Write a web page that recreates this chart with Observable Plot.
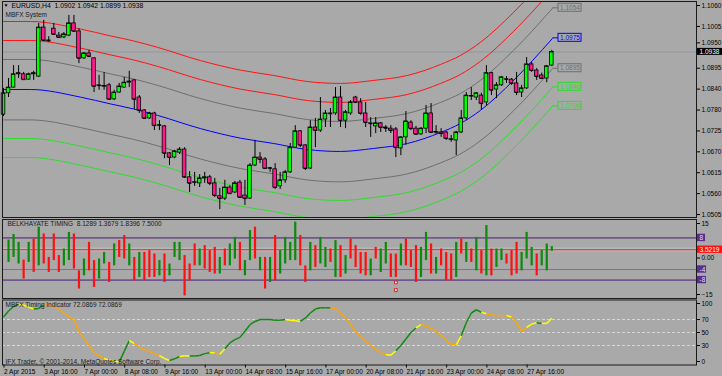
<!DOCTYPE html>
<html><head><meta charset="utf-8">
<script src="https://cdn.jsdelivr.net/npm/d3@7"></script>
<script src="https://cdn.jsdelivr.net/npm/@observablehq/plot@0.6"></script>
<style>
html,body{margin:0;padding:0;background:#a9a9a9;}
#chart{position:relative;width:722px;height:376px;background:#a9a9a9;overflow:hidden;}
#chart svg{position:absolute;left:0;}
</style></head><body><div id="chart"></div>
<script>
// ---------- DATA ----------
const symbolHeader = "EURUSD,H4\u00a0\u00a01.0902 1.0942 1.0899 1.0938";
const timeTickLabels = ["2 Apr 2015","3 Apr 16:00","7 Apr 00:00","8 Apr 08:00","9 Apr 16:00","13 Apr 00:00","14 Apr 08:00","15 Apr 16:00","17 Apr 00:00","20 Apr 08:00","21 Apr 16:00","23 Apr 00:00","24 Apr 08:00","27 Apr 16:00"];
const timeTickBars = [0,8,16,24,32,40,48,56,64,72,80,88,96,104];
const priceTickLabels = ["1.1060","1.1005","1.0950","1.0895","1.0840","1.0780","1.0725","1.0670","1.0615","1.0560","1.0505"];
const priceTickValues = [1.1060,1.1005,1.0950,1.0895,1.0840,1.0785,1.0730,1.0675,1.0620,1.0565,1.0510];

const opens = [1.0773,1.0829,1.0844,1.0879,1.0879,1.0865,1.0879,1.0873,1.1002,1.0968,
1.0999,1.0981,1.0976,1.0981,1.1013,1.0992,1.0921,1.0934,1.0921,1.0850,
1.0847,1.0850,1.0813,1.0831,1.0844,1.0857,1.0863,1.0818,1.0784,1.0763,
1.0776,1.0744,1.0742,1.0671,1.0660,1.0673,1.0681,1.0608,1.0594,1.0592,
1.0605,1.0608,1.0592,1.0558,1.0552,1.0581,1.0568,1.0594,1.0560,1.0552,
1.0639,1.0660,1.0655,1.0631,1.0629,1.0584,1.0600,1.0621,1.0686,1.0729,
1.0692,1.0631,1.0739,1.0731,1.0760,1.0776,1.0776,1.0818,1.0757,1.0776,
1.0818,1.0805,1.0776,1.0750,1.0742,1.0750,1.0739,1.0736,1.0734,1.0684,
1.0713,1.0752,1.0736,1.0721,1.0736,1.0776,1.0726,1.0726,1.0726,1.0707,
1.0705,1.0726,1.0763,1.0821,1.0818,1.0823,1.0805,1.0882,1.0839,1.0850,
1.0865,1.0865,1.0855,1.0831,1.0842,1.0905,1.0889,1.0876,1.0868,1.0902];
const highs = [1.0842,1.0868,1.0902,1.0902,1.0884,1.0882,1.0887,1.1013,1.1021,1.0978,
1.1013,1.0989,1.0989,1.1034,1.1034,1.0999,1.0936,1.0942,1.0923,1.0876,
1.0884,1.0855,1.0837,1.0855,1.0871,1.0887,1.0865,1.0823,1.0786,1.0779,
1.0779,1.0757,1.0744,1.0673,1.0679,1.0686,1.0686,1.0623,1.0621,1.0615,
1.0621,1.0613,1.0605,1.0579,1.0600,1.0586,1.0597,1.0600,1.0600,1.0644,
1.0705,1.0673,1.0660,1.0634,1.0644,1.0621,1.0626,1.0697,1.0744,1.0731,
1.0694,1.0757,1.0763,1.0818,1.0784,1.0789,1.0844,1.0847,1.0784,1.0810,
1.0821,1.0815,1.0805,1.0765,1.0765,1.0752,1.0744,1.0744,1.0739,1.0715,
1.0781,1.0757,1.0742,1.0739,1.0797,1.0802,1.0744,1.0736,1.0729,1.0718,
1.0729,1.0784,1.0831,1.0844,1.0831,1.0829,1.0902,1.0884,1.0857,1.0873,
1.0873,1.0868,1.0884,1.0850,1.0923,1.0910,1.0894,1.0882,1.0902,1.0942];
const lows = [1.0768,1.0818,1.0842,1.0868,1.0863,1.0863,1.0863,1.0871,1.0965,1.0963,
1.0981,1.0973,1.0973,1.0978,1.0989,1.0907,1.0918,1.0923,1.0831,1.0837,
1.0837,1.0810,1.0810,1.0829,1.0842,1.0844,1.0786,1.0776,1.0760,1.0760,
1.0731,1.0731,1.0657,1.0639,1.0657,1.0668,1.0605,1.0568,1.0584,1.0581,
1.0592,1.0586,1.0555,1.0523,1.0547,1.0563,1.0565,1.0552,1.0534,1.0550,
1.0636,1.0644,1.0629,1.0621,1.0576,1.0576,1.0592,1.0618,1.0684,1.0686,
1.0626,1.0629,1.0686,1.0726,1.0739,1.0739,1.0771,1.0739,1.0736,1.0771,
1.0802,1.0771,1.0739,1.0713,1.0723,1.0726,1.0726,1.0723,1.0660,1.0665,
1.0692,1.0731,1.0718,1.0718,1.0723,1.0723,1.0721,1.0713,1.0705,1.0700,
1.0665,1.0723,1.0757,1.0810,1.0810,1.0784,1.0797,1.0823,1.0815,1.0847,
1.0855,1.0850,1.0823,1.0818,1.0839,1.0884,1.0863,1.0865,1.0857,1.0899];
const closes = [1.0829,1.0844,1.0879,1.0882,1.0865,1.0879,1.0882,1.1002,1.0968,1.0967,
1.0984,1.0976,1.0984,1.1013,1.0992,1.0921,1.0934,1.0926,1.0847,1.0849,
1.0848,1.0813,1.0831,1.0847,1.0857,1.0860,1.0813,1.0784,1.0763,1.0776,
1.0744,1.0745,1.0671,1.0660,1.0676,1.0681,1.0608,1.0592,1.0595,1.0605,
1.0608,1.0592,1.0560,1.0552,1.0581,1.0565,1.0592,1.0555,1.0552,1.0639,
1.0660,1.0655,1.0631,1.0632,1.0581,1.0600,1.0621,1.0686,1.0729,1.0692,
1.0631,1.0739,1.0731,1.0760,1.0776,1.0775,1.0818,1.0757,1.0779,1.0805,
1.0805,1.0776,1.0752,1.0749,1.0750,1.0739,1.0737,1.0731,1.0686,1.0713,
1.0755,1.0736,1.0721,1.0736,1.0776,1.0726,1.0727,1.0723,1.0710,1.0708,
1.0726,1.0763,1.0823,1.0822,1.0829,1.0802,1.0882,1.0837,1.0850,1.0871,
1.0866,1.0855,1.0831,1.0842,1.0905,1.0889,1.0873,1.0868,1.0900,1.0938];

// MBFX System channel: centre line samples (bar, price) and band offsets
const centerBars   = [0, 5.4, 15.3, 21.3, 25.8, 30.6, 39.2, 47.1, 53.7, 60.4, 67, 73.6, 80.3, 86.9, 90.9, 94.8, 101.4, 109.1];
const centerPrices = [1.0839,1.0839,1.0819,1.0801,1.0788,1.0771,1.0736,1.0711,1.0697,1.0681,1.0676,1.0684,1.0697,1.0726,1.0750,1.0784,1.0863,1.0973];
const bandOffsets = [0.0179, 0.0129, 0.0079, 0, -0.0080, -0.0129, -0.0179];
const bandColors  = ["#ff1414","#ff1414","#6f6f6f","#0000ff","#6f6f6f","#2fdc2f","#2fdc2f"];
const bandLabels  = ["1.1054","1.0975","1.0895","1.0846","1.0796"];
const bandLabelColors = ["#6f6f6f","#0000ff","#6f6f6f","#2fdc2f","#2fdc2f"];

// BELKHAYATE TIMING (bars 1..109)
const btHeader = "BELKHAYATE TIMING\u00a0\u00a08.1289 1.3679 1.8396 7.5000";
const btHigh = [7.2,9.3,6.3,-0.4,6.3,7.6,12.1,9.5,0.6,9.5,1.3,3.8,10.1,9.5,-4.5,0.0,6.3,-0.6,0.0,2.5,
-1.3,5.7,7.0,8.9,5.7,0.6,2.5,2.5,3.2,1.9,-0.6,1.9,-1.9,6.3,6.3,1.3,-1.9,5.7,3.8,5.1,
3.2,4.4,0.6,3.8,5.7,8.2,6.3,-0.6,10.8,12.1,0.6,0.6,0.6,8.9,3.2,8.2,6.3,14.0,8.9,-2.6,
6.3,5.1,8.2,4.4,3.8,7.0,5.1,1.3,7.6,5.1,2.5,2.5,0.0,4.4,3.8,6.3,1.9,1.9,5.7,7.6,
3.2,5.1,4.4,10.1,5.7,0.6,3.8,2.5,1.9,6.3,7.6,6.3,3.8,8.2,3.2,12.7,3.8,3.8,3.8,1.9,
3.2,6.3,2.5,10.1,4.4,1.9,3.2,5.7,4.7];
const btLow = [-1.3,0.6,-1.9,-7.6,-1.3,-5.1,-2.6,-1.9,-5.1,-0.6,-5.1,-2.6,-0.6,-3.8,-11.4,-6.4,-4.5,-10.8,-7.6,-1.9,
-8.9,-2.6,0.6,0.0,-2.6,-8.3,-7.0,-8.3,-7.0,-7.0,-6.4,-8.9,-6.4,0.6,-0.6,-14.0,-8.3,-2.6,-2.6,-3.8,
-5.1,-5.7,-5.7,-2.6,-2.6,0.0,-4.5,-6.4,-0.6,0.0,-4.5,-11.4,-8.9,-8.3,-5.7,-1.9,-0.6,-0.6,-2.6,-8.9,
-4.5,-3.2,-1.9,-3.2,-1.3,-7.0,-7.0,-5.7,0.0,-3.2,-5.7,-6.4,-6.4,0.0,-5.1,-1.9,-7.0,-7.0,-2.6,-2.6,
-3.2,-8.9,-7.0,-0.6,-5.7,-5.7,-2.6,-8.3,-8.3,-7.0,1.9,-1.3,-1.3,-4.5,-5.7,-6.4,-6.4,-3.2,-0.6,-1.9,
-6.4,-5.7,-4.5,0.0,-2.6,-6.4,-2.6,-4.5,2.9];
const btUp = [1,1,1,0,1,0,1,0,0,0,0,1,1,0,0,1,0,0,1,1,
0,1,0,0,1,0,1,0,0,0,1,0,1,1,1,0,0,0,1,0,
0,0,1,0,1,1,0,1,1,0,1,0,1,0,1,1,1,1,0,0,
1,0,1,1,0,1,0,1,0,0,0,0,1,0,1,1,0,0,1,0,
0,0,1,1,0,1,0,0,0,1,0,1,0,1,0,1,0,1,1,0,
0,0,1,1,1,0,1,1,1];
const btLevels = [8, -4, -8];
const btCurrent = 3.5219;
const btMarkers = [[78, -8.9], [78, -11.8]];

// MBFX Timing Indicator (one value per bar, colour code per bar)
const timingHeader = "MBFX Timing Indicator 72.0869 72.0869";
const timingValues = [74,83,90,93,92,89,86,87,92,92,
90,87,80,74,70,51,41,31,19,14,
10,7.5,6,4.5,21,37.7,33,27.5,24,20.5,
17.5,14.5,10,7,9.5,13,14.3,14,13.8,14.6,
17.5,19,19,16.5,25,34,39,42.5,52,62,
67,70,70,70,69,69,70,69,68,67,
72,80,86,88,88,88,87,80,72,62,
52,44,37,30,24,19,16,15,22,30,
40,50,57,62,60,56,52,45,38,32,
31,45,65,80,85,81,79,77,76,76,
76,74,65,52,58,63,65,64,64,72];
const timingColorCode = "ggggyyyggooooooooooooyyyggyoooooyyggyyggggyoyggggggggggggyyyggggggoooooooooooyyggggyoooooooyggggyooooyoooyygyyyg";
const copyright = "IFX Trader, \u00a9 2001-2014, MetaQuotes Software Corp.";

// ---------- LAYOUT ----------
const FONT = "'Liberation Sans', Arial, sans-serif";
const X_DOMAIN = [-0.2, 137.77];
const px = p => (p - 3) / 5.03; // pixel column -> bar slot (layout helper)
const baseStyle = {background: "transparent", fontFamily: FONT, fontSize: "6.5px", color: "#000", overflow: "visible"};
const root = document.getElementById("chart");
function place(svg, top) { svg.style.top = top + "px"; root.appendChild(svg); }

// ---------- PANEL 1 ----------
const last = closes.length - 1;
const candles = opens.map((o, i) => ({i, open: o, high: highs[i], low: lows[i], close: closes[i]}));
const center = centerBars.map((b, k) => ({b, p: centerPrices[k]}));
const bandMarks = bandOffsets.map((off, k) => Plot.line(center, {x: "b", y: d => d.p + off, stroke: bandColors[k], strokeWidth: 1, curve: "monotone-x", clip: true}));
const lastB = centerBars[centerBars.length - 1];
const labelData = bandLabels.map((t, k) => ({t, v: +t, c: bandLabelColors[k]}));
const h1 = 0.00105;
const hiddenTick = priceTickValues[2];
const p1 = Plot.plot({
  width: 722, height: 218, marginTop: 1, marginBottom: 1, marginLeft: 2, marginRight: 26,
  x: {domain: X_DOMAIN, axis: null},
  y: {domain: [1.05022, 1.10706], axis: null},
  style: baseStyle,
  marks: [
    Plot.ruleY([closes[last]], {stroke: "#8c98a6", strokeWidth: 1}),
    ...bandMarks,
    Plot.link(labelData, {x1: lastB, x2: px(558), y1: "v", y2: "v", stroke: "c"}),
    Plot.rect(labelData, {x1: px(558), x2: px(581), y1: d => d.v - h1, y2: d => d.v + h1, fill: "#a9a9a9", stroke: "c"}),
    Plot.text(labelData, {x: px(569.5), y: "v", text: "t", fill: "c", fontSize: 6.5}),
    Plot.ruleX(candles, {x: "i", y1: "low", y2: "high", stroke: "#000", strokeWidth: 1}),
    Plot.rect(candles, {x1: d => d.i - 0.36, x2: d => d.i + 0.36, y1: "open", y2: "close", fill: d => d.close >= d.open ? "#00ff00" : "#ff1a8c", stroke: "#000", strokeWidth: 0.8}),
    Plot.link(candles, {x1: d => d.i - 0.36, x2: d => d.i + 0.36, y1: "close", y2: "close", stroke: "#000", strokeWidth: 0.9}),
    Plot.axisY({anchor: "right", ticks: priceTickValues.filter(v => v !== hiddenTick), tickFormat: (d) => priceTickLabels[priceTickValues.indexOf(d)], tickSize: 3, tickPadding: 2, fontSize: 6.5, textAnchor: "start", stroke: "#000"}),
    Plot.axisY({anchor: "right", ticks: [hiddenTick], tickFormat: (d) => priceTickLabels[priceTickValues.indexOf(d)], tickSize: 3, tickPadding: 2, fontSize: 6.5, textAnchor: "start", dy: -4.5, stroke: "#000"}),
    Plot.rect([closes[last]], {x1: px(697), x2: px(722), y1: d => d - 0.00092, y2: d => d + 0.00092, fill: "#000"}),
    Plot.text([closes[last]], {x: px(699), y: d => d, text: d => d.toFixed(4), fill: "#fff", textAnchor: "start", fontSize: 6.5}),
    Plot.frame({stroke: "#1a1a1a"}),
    Plot.text(["\u25BC"], {frameAnchor: "top-left", dx: 1, dy: 2, fontSize: 5, textAnchor: "start", lineAnchor: "top", fill: "#000"}),
    Plot.text([symbolHeader], {frameAnchor: "top-left", dx: 9, dy: 1.5, fontSize: 6.8, textAnchor: "start", lineAnchor: "top", fill: "#000"}),
    Plot.text(["MBFX System"], {frameAnchor: "top-left", dx: 3, dy: 10.5, fontSize: 6.5, textAnchor: "start", lineAnchor: "top", fill: "#1a1a1a"})
  ]
});
place(p1, 0);

// ---------- PANEL 2 ----------
const bt = btHigh.map((h, k) => ({i: k + 1, high: h, low: btLow[k], up: btUp[k]}));
const boxes = [
  {v: 8, t: "8", w: 705, c: "#5a2d8e", tc: "#e6dcff"},
  {v: -4, t: "-4", w: 706, c: "#5a2d8e", tc: "#e6dcff"},
  {v: -8, t: "-8", w: 706, c: "#5a2d8e", tc: "#e6dcff"},
  {v: btCurrent, t: btCurrent.toFixed(4), w: 722, c: "#ff1010", tc: "#ffffff"}
];
const p2 = Plot.plot({
  width: 722, height: 82, marginTop: 2, marginBottom: 1, marginLeft: 2, marginRight: 26,
  x: {domain: X_DOMAIN, axis: null},
  y: {domain: [-15, 15], axis: null},
  style: baseStyle,
  marks: [
    Plot.ruleY([3.65], {stroke: "#b7b7b7", strokeWidth: 4}),
    Plot.ruleY([btCurrent], {stroke: "#ff2020", strokeWidth: 1}),
    Plot.ruleY([btLevels[0], btLevels[2]], {stroke: "#4a1a78", strokeWidth: 1}),
    Plot.ruleY([btLevels[1]], {stroke: "#8c60c8", strokeWidth: 1}),
    Plot.ruleX(bt, {x: "i", y1: "low", y2: "high", stroke: d => d.up ? "#0b8a0b" : "#ff1010", strokeWidth: 2.2}),
    Plot.dot(btMarkers, {x: d => d[0], y: d => d[1], symbol: "square", r: 1.6, fill: "#fff", stroke: "#ff1010", strokeWidth: 1}),
    Plot.axisY({anchor: "right", ticks: [15], tickSize: 3, tickPadding: 2, fontSize: 6.5, textAnchor: "start", dy: 4}),
    Plot.axisY({anchor: "right", ticks: [0], tickFormat: () => "0.00", tickSize: 3, tickPadding: 2, fontSize: 6.5, textAnchor: "start", dy: -1}),
    Plot.axisY({anchor: "right", ticks: [-15], tickSize: 3, tickPadding: 2, fontSize: 6.5, textAnchor: "start", dy: -4}),
    Plot.rect(boxes, {x1: px(697), x2: d => px(d.w), y1: d => d.v - 1.4, y2: d => d.v + 1.4, fill: "c"}),
    Plot.text(boxes, {x: px(699), y: "v", text: "t", fill: "tc", textAnchor: "start", fontSize: 6.5}),
    Plot.frame({stroke: "#1a1a1a"}),
    Plot.text([btHeader], {frameAnchor: "top-left", dx: 5, dy: 2, fontSize: 6.5, textAnchor: "start", lineAnchor: "top", fill: "#1a1a1a"})
  ]
});
place(p2, 217);

// ---------- PANEL 3 ----------
const colorOf = {g: "#128a12", o: "#ffa500", y: "#ffff00"};
const segs = [];
for (let i = 1; i < timingValues.length; i++) {
  segs.push({x1: i - 1, y1: timingValues[i - 1], x2: i, y2: timingValues[i], c: colorOf[timingColorCode[i]]});
}
const p3 = Plot.plot({
  width: 722, height: 78, marginTop: 1.5, marginBottom: 11.5, marginLeft: 2, marginRight: 26,
  x: {domain: X_DOMAIN, axis: null},
  y: {domain: [0, 100], axis: null},
  style: baseStyle,
  marks: [
    Plot.ruleY([30, 50, 70], {stroke: "#d6d6d6", strokeDasharray: "3,2", strokeWidth: 1}),
    Plot.link(segs, {x1: "x1", y1: "y1", x2: "x2", y2: "y2", stroke: "c", strokeWidth: 1.5}),
    Plot.axisY({anchor: "right", ticks: [30, 50, 70], tickSize: 3, tickPadding: 2, fontSize: 6.5, textAnchor: "start"}),
    Plot.axisY({anchor: "right", ticks: [100], tickSize: 3, tickPadding: 2, fontSize: 6.5, textAnchor: "start", dy: 3.5}),
    Plot.axisY({anchor: "right", ticks: [0], tickSize: 3, tickPadding: 2, fontSize: 6.5, textAnchor: "start", dy: -3.5}),
    Plot.axisX({anchor: "bottom", ticks: timeTickBars, tickFormat: d => timeTickLabels[timeTickBars.indexOf(d)], tickSize: 3, tickPadding: 1, fontSize: 6.5, textAnchor: "start", dx: 0.5}),
    Plot.frame({stroke: "#1a1a1a"}),
    Plot.text([timingHeader], {frameAnchor: "top-left", dx: 3, dy: 2, fontSize: 6.5, textAnchor: "start", lineAnchor: "top", fill: "#1a1a1a"}),
    Plot.text([copyright], {frameAnchor: "bottom-left", dx: 3, dy: -1, fontSize: 6.5, textAnchor: "start", lineAnchor: "bottom", fill: "#1a1a1a"})
  ]
});
place(p3, 298);
</script>
</body></html>
